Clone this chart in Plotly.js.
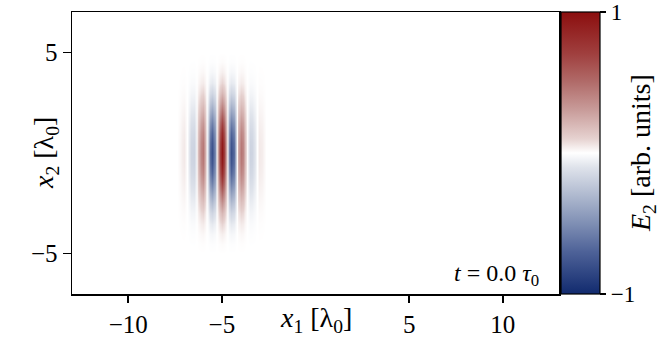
<!DOCTYPE html>
<html>
<head>
<meta charset="utf-8">
<script src="https://cdn.plot.ly/plotly-3.0.1.min.js"></script>
<style>html,body{margin:0;padding:0;background:#fff;}#chart{width:662px;height:338px;}</style>
</head>
<body>
<div id="chart"></div>
<script>
// x1 sample positions [lambda0] (pulse region sampled finely, padded with zeros to the edges)
const x1 = [-13.5, -7.5, -7.375, -7.25, -7.125, -7.0, -6.875, -6.75, -6.625, -6.5, -6.375, -6.25, -6.125, -6.0,
  -5.875, -5.75, -5.625, -5.5, -5.375, -5.25, -5.125, -5.0, -4.875, -4.75, -4.625, -4.5, -4.375, -4.25, -4.125,
  -4.0, -3.875, -3.75, -3.625, -3.5, -3.375, -3.25, -3.125, -3.0, -2.875, -2.75, -2.625, -2.5, 13.5];
// E2 read along the axis x2 = 0
const fieldOnAxis = [0, 0, 0.00, 0.02, 0.04, 0.05, 0.00, -0.09, -0.17, -0.18, -0.07, 0.18, 0.40, 0.46,
  0.25, -0.22, -0.66, -0.80, -0.53, 0.09, 0.72, 0.96, 0.72, 0.09, -0.53, -0.80, -0.66, -0.22, 0.25,
  0.46, 0.40, 0.18, -0.07, -0.18, -0.17, -0.09, 0.00, 0.05, 0.04, 0.02, 0.00, 0, 0];
// x2 sample positions [lambda0]
const x2 = [-7.5, -7.0, -6.5, -6.0, -5.5, -5.0, -4.5, -4.0, -3.5, -3.0, -2.5, -2.0, -1.5, -1.0, -0.5, 0.0,
  0.5, 1.0, 1.5, 2.0, 2.5, 3.0, 3.5, 4.0, 4.5, 5.0, 5.5, 6.0, 6.5, 7.0, 7.5];
// transverse envelope read along the central stripe
const transverse = [0, 0, 0, 0, 0, 0, 0.01, 0.04, 0.10, 0.21, 0.36, 0.53, 0.71, 0.86, 0.96, 1.0,
  0.96, 0.86, 0.71, 0.53, 0.36, 0.21, 0.10, 0.04, 0.01, 0, 0, 0, 0, 0, 0];
const xTicks = [-10, -5, 5, 10];
const yTicks = [-5, 5];
const cbTicks = [-1, 1];

const z = transverse.map(a => fieldOnAxis.map(b => a * b));

const FONT = '"Liberation Serif", "DejaVu Serif", serif';
const colorscale = [
  [0.0, '#112a6e'], [0.15, '#4e6298'], [0.25, '#7f8fb4'], [0.35, '#afb9cf'],
  [0.45, '#dfe3eb'], [0.5, '#ffffff'], [0.55, '#e6d2d0'], [0.65, '#c99d9b'],
  [0.75, '#b16c6a'], [0.85, '#a0403f'], [1.0, '#8b0e0e']
];

const trace = {
  type: 'heatmap', x: x1, y: x2, z: z, zmin: -1, zmax: 1, zsmooth: 'best',
  colorscale: colorscale, showscale: true,
  colorbar: {
    x: 1.005, xanchor: 'left', xpad: 0, y: 0.5, yanchor: 'middle', ypad: 0,
    len: 1, lenmode: 'fraction', thickness: 39, outlinewidth: 1.2, outlinecolor: '#000',
    tickvals: cbTicks, ticktext: ['\u22121', '1'], ticks: 'outside', ticklen: 6, tickwidth: 1.5,
    tickcolor: '#000', tickfont: {family: FONT, size: 23, color: '#000'}
  },
  hoverinfo: 'skip'
};

const layout = {
  width: 662, height: 338,
  margin: {l: 72, r: 103, t: 12, b: 44, pad: 0},
  paper_bgcolor: '#fff', plot_bgcolor: '#fff',
  font: {family: FONT, size: 25, color: '#000'},
  xaxis: {range: [-13, 13], tickvals: xTicks, ticks: 'outside', ticklen: 7, tickwidth: 1.5,
    tickcolor: '#000', showline: true, linecolor: '#000', linewidth: 1.5, mirror: true,
    showgrid: false, zeroline: false, tickfont: {family: FONT, size: 25}},
  yaxis: {range: [-7, 7], tickvals: yTicks, ticks: 'outside', ticklen: 8, tickwidth: 1.5,
    tickcolor: '#000', showline: true, linecolor: '#000', linewidth: 1.5, mirror: true,
    showgrid: false, zeroline: false, tickfont: {family: FONT, size: 25}},
  annotations: [
    {text: '<i>x</i><sub>1</sub> [λ<sub>0</sub>]', xref: 'x', x: 0, yref: 'paper', y: 0,
     yshift: -25, xanchor: 'center', yanchor: 'middle', showarrow: false, font: {family: FONT, size: 28}},
    {text: '<i>x</i><sub>2</sub> [λ<sub>0</sub>]', xref: 'paper', x: 0, xshift: -27, yref: 'y', y: 0,
     textangle: -90, xanchor: 'center', yanchor: 'middle', showarrow: false, font: {family: FONT, size: 28}},
    {text: '<i>t</i> = 0.0 <i>τ</i><sub>0</sub>', xref: 'paper', x: 1, xshift: -18, yref: 'paper', y: 0,
     yshift: 19, xanchor: 'right', yanchor: 'middle', showarrow: false, font: {family: FONT, size: 24}},
    {text: '<i>E</i><sub>2</sub> [arb. units]', xref: 'paper', x: 1, xshift: 83, yref: 'y', y: 0,
     textangle: -90, xanchor: 'center', yanchor: 'middle', showarrow: false, font: {family: FONT, size: 28}}
  ]
};

Plotly.newPlot('chart', [trace], layout, {displayModeBar: false, staticPlot: true});
</script>
</body>
</html>
